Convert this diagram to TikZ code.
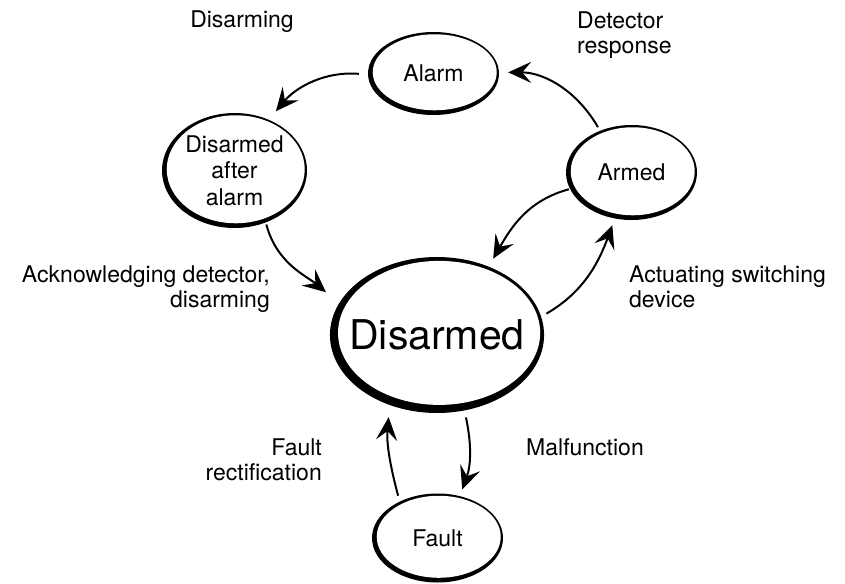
\documentclass[tikz,border=0pt]{standalone}
\usepackage{fontspec}
\setmainfont{TeX Gyre Heros}
\usetikzlibrary{arrows.meta, shapes.geometric, calc}

\tikzset{
    state/.style={ellipse, fill=black, inner sep=0pt, align=center,
        font=\fontsize{23}{26.5}\selectfont,
        path picture={\fill[white] let \p1=(path picture bounding box.north east),
            \p2=(path picture bounding box.south west) in
            ($(\p1)!0.5!(\p2)+(0.35*#1,0.35*#1)$)
            ellipse [x radius={(\x1-\x2)/2-#1}, y radius={(\y1-\y2)/2-#1}];}},
    state/.default=3.5pt,
    trans/.style={-{Stealth[length=23pt, width=21pt, inset=9pt]}, line width=2pt},
    lbl/.style={inner sep=0pt, font=\fontsize{23}{25.5}\selectfont}
}

\begin{document}
\begin{tikzpicture}[x=1pt, y=1pt]
    \useasboundingbox (0, 0) rectangle (845, -583);

    % states
    \node[state, minimum width=131pt, minimum height=83pt] (alarm) at (433.5, -73.5) {Alarm};
    \node[state, minimum width=145pt, minimum height=115pt] (daa) at (234.5, -170.5) {Disarmed\\after\\alarm};
    \node[state, minimum width=131pt, minimum height=95pt] (armed) at (631.5, -172.5) {Armed};
    \node[state=6pt, inner xsep=-12pt, minimum width=210pt, minimum height=156pt, font=\fontsize{41}{45}\selectfont] (disarmed) at (437, -335) {Disarmed};
    \node[state, minimum width=131pt, minimum height=89pt] (fault) at (437.5, -538) {Fault};

    % labels
    \node[lbl, anchor=north] (lbldisarming) at (242, -11) {Disarming};
    \node[lbl, anchor=north west, align=left] (lbldetector) at (577, -11.5) {Detector\\response};
    \node[lbl, anchor=north east, align=right] (lblack) at (270, -265.5) {Acknowledging detector,\\disarming};
    \node[lbl, anchor=north west, align=left] (lblactuating) at (629, -265.5) {Actuating switching\\device};
    \node[lbl, anchor=north east, align=right] (lblfault) at (322, -438.5) {Fault\\rectification};
    \node[lbl, anchor=north west] (lblmalfunction) at (526, -438.5) {Malfunction};

    % transitions
    \draw[trans, shorten <=9pt, shorten >=11pt] (alarm.181) to[out=175, in=50] (daa.56);
    \draw[trans, shorten <=4pt, shorten >=9pt] (armed.127) to[out=120, in=0] (alarm.1);
    \draw[trans, shorten <=2pt, shorten >=17pt] (daa.-59) to[out=-75, in=140] (disarmed.162);
    \draw[trans, shorten <=1pt, shorten >=9pt] (armed.195) to[out=195, in=60] (disarmed.53);
    \draw[trans, shorten <=6pt, shorten >=7pt] (disarmed.10) to[out=30, in=250] (armed.250);
    \draw[trans, shorten <=7pt, shorten >=7pt] (disarmed.-70) to[out=-78, in=70] (fault.62);
    \draw[trans, shorten <=6pt, shorten >=12pt] (fault.136) to[out=105, in=265] (disarmed.236);
\end{tikzpicture}
\end{document}
